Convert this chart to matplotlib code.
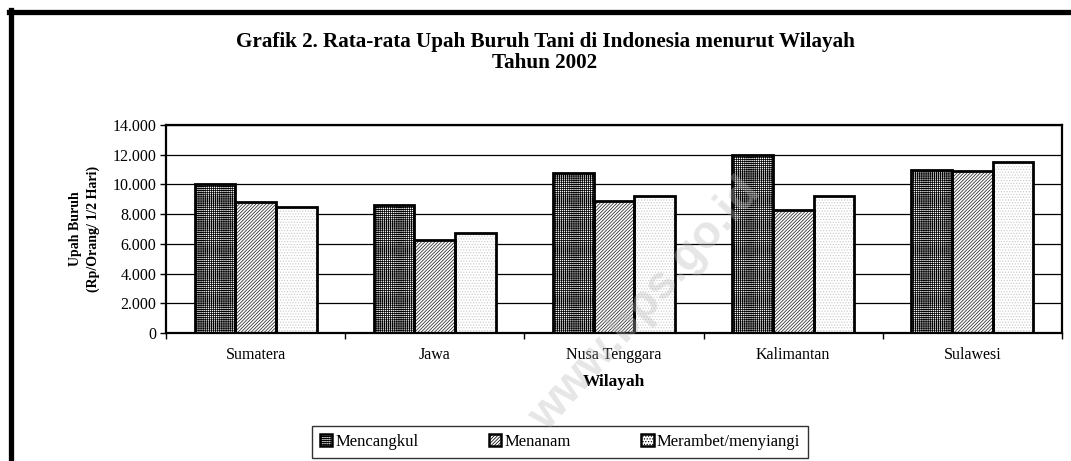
import numpy as np
import matplotlib
matplotlib.use("Agg")
import matplotlib.pyplot as plt
from matplotlib.patches import Patch
from matplotlib.lines import Line2D

plt.rcParams['font.family'] = ['Liberation Serif', 'DejaVu Serif']
plt.rcParams['hatch.linewidth'] = 0.55

# data
wilayah = ['Sumatera', 'Jawa', 'Nusa Tenggara', 'Kalimantan', 'Sulawesi']
series = ['Mencangkul', 'Menanam', 'Merambet/menyiangi']
mencangkul = [10000, 8600, 10800, 11950, 10950]
menanam = [8800, 6250, 8900, 8250, 10900]
merambet = [8500, 6700, 9200, 9250, 11500]
yticks = [0, 2000, 4000, 6000, 8000, 10000, 12000, 14000]
ytick_labels = ['0', '2.000', '4.000', '6.000', '8.000', '10.000', '12.000', '14.000']

hatches = ['++++++++', '//////////', '......']
hatch_colors = ['black', '0.15', '0.8']

W, H = 1071, 461
fig = plt.figure(figsize=(W / 100, H / 100), dpi=100)
fig.patch.set_facecolor('white')
ax = fig.add_axes([166 / W, 1 - 333 / H, (1062 - 166) / W, (333 - 125) / H])

x = np.arange(len(wilayah))
bw = 0.227
vals = [mencangkul, menanam, merambet]
for i, v in enumerate(vals):
    pos = x + (i - 1) * bw
    # hatch fill, then a separate black outline
    ax.bar(pos, v, bw, color='white', edgecolor=hatch_colors[i], hatch=hatches[i],
           linewidth=0, zorder=2)
    ax.bar(pos, v, bw, color='none', edgecolor='black', linewidth=2.0, zorder=3)

ax.set_xlim(-0.5, len(wilayah) - 0.5)
ax.set_ylim(0, 14000)
ax.set_yticks(yticks)
ax.set_yticklabels(ytick_labels, fontsize=11.5)
ax.yaxis.grid(True, color='black', linewidth=0.9, zorder=0)
ax.set_axisbelow(True)
ax.tick_params(axis='y', direction='out', length=4, width=1, pad=3)

ax.set_xticks(x)
ax.set_xticklabels(wilayah, fontsize=11.5)
ax.tick_params(axis='x', which='major', length=0, pad=10)
ax.set_xticks(np.arange(len(wilayah) + 1) - 0.5, minor=True)
ax.tick_params(axis='x', which='minor', direction='out', length=4, width=1)
for s in ax.spines.values():
    s.set_linewidth(1.6)
    s.set_color('black')

ax.set_xlabel('Wilayah', fontsize=12.5, fontweight='bold', labelpad=8)

fig.text(75 / W, 1 - 229 / H, 'Upah Buruh', rotation=90, ha='center', va='center',
         fontsize=10, fontweight='bold')
fig.text(93 / W, 1 - 229 / H, '(Rp/Orang/ 1/2 Hari)', rotation=90, ha='center', va='center',
         fontsize=10, fontweight='bold')

fig.text(545 / W, 1 - 42 / H, 'Grafik 2. Rata-rata Upah Buruh Tani di Indonesia menurut Wilayah',
         ha='center', va='center', fontsize=15.2, fontweight='bold')
fig.text(545 / W, 1 - 63 / H, 'Tahun 2002', ha='center', va='center',
         fontsize=15.2, fontweight='bold')

handles = [Patch(facecolor='white', edgecolor='black', hatch=hatches[i], linewidth=1.8)
           for i in range(3)]
leg = fig.legend(handles, series, loc='center', bbox_to_anchor=(560 / W, 1 - 442 / H),
                 ncol=3, fontsize=12, frameon=True, fancybox=False, edgecolor='black',
                 handlelength=0.75, handleheight=0.75, handletextpad=0.2,
                 columnspacing=4.2, borderpad=0.5)
leg.get_frame().set_linewidth(1.0)

# outer frame (top and left only visible)
fig.add_artist(Line2D([9 / W, 1.0], [1 - 12 / H, 1 - 12 / H], color='black',
                      linewidth=3.8, transform=fig.transFigure))
fig.add_artist(Line2D([11 / W, 11 / W], [1 - 10 / H, 0.0], color='black',
                      linewidth=3.8, transform=fig.transFigure))

# watermark
fig.text(645 / W, 1 - 305 / H, 'www.bps.go.id', rotation=48, ha='center', va='center',
         fontsize=33, fontweight='bold', family='Liberation Sans', color='0.72',
         alpha=0.35, zorder=10)

fig.savefig('out.png', dpi=100)
